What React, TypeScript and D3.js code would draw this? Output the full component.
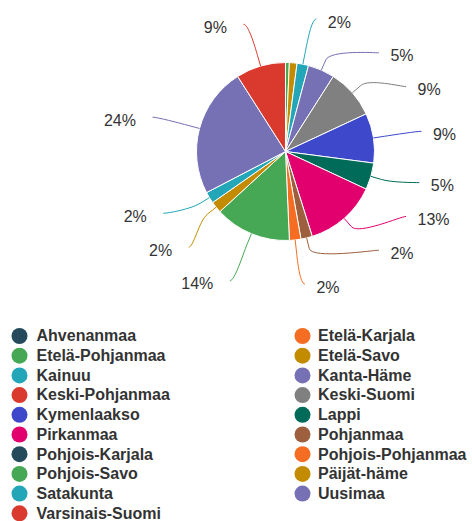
import React from 'react';
import * as d3 from 'd3';

const regions = [
  'Ahvenanmaa', 'Etelä-Karjala', 'Etelä-Pohjanmaa', 'Etelä-Savo', 'Kainuu',
  'Kanta-Häme', 'Keski-Pohjanmaa', 'Keski-Suomi', 'Kymenlaakso', 'Lappi',
  'Pirkanmaa', 'Pohjanmaa', 'Pohjois-Karjala', 'Pohjois-Pohjanmaa', 'Pohjois-Savo',
  'Päijät-häme', 'Satakunta', 'Uusimaa', 'Varsinais-Suomi',
];
const counts = [0, 0, 1, 2, 3, 7, 0, 13, 13, 7, 19, 3, 0, 3, 20, 3, 3, 34, 13];
const palette = [
  '#244a5b', '#f46d22', '#46a854', '#c38b00', '#22a6b8', '#7670b4',
  '#da3a2d', '#808080', '#3e48cb', '#006b58', '#e2006f', '#9d5f3e',
];

const W = 472;
const H = 521;
const cx = 285.5;
const cy = 151.5;
const radius = 89;
const labelDistance = 43.5;
const R = radius + labelDistance;
const connectorOffset = 11;
const boxH = 33.8;
const FONT = '"Liberation Sans", Arial, sans-serif';

type Box = { target: number; size: number; pos: number; key: number };

function distribute(boxes: Box[], len: number) {
  const sorted = boxes.slice().sort((a, b) => a.target - b.target);
  let groups = sorted.map((b) => ({ size: b.size, targets: [b.target], align: 0.5, pos: 0, members: [b] }));
  let overlapping = true;
  let guard = 0;
  while (overlapping && guard++ < 100) {
    for (const g of groups) {
      const t = (Math.min(...g.targets) + Math.max(...g.targets)) / 2;
      g.pos = Math.min(Math.max(0, t - g.size * g.align), len - g.size);
    }
    overlapping = false;
    let i = groups.length;
    while (i--) {
      if (i > 0 && groups[i - 1].pos + groups[i - 1].size > groups[i].pos) {
        const p = groups[i - 1];
        const c = groups[i];
        p.size += c.size;
        p.targets = p.targets.concat(c.targets);
        p.members = p.members.concat(c.members);
        p.align = 0.5;
        if (p.pos + p.size > len) p.pos = len - p.size;
        groups.splice(i, 1);
        overlapping = true;
      }
    }
  }
  for (const g of groups) {
    let off = 0;
    for (const m of g.members) {
      m.pos = g.pos + off;
      off += m.size;
    }
  }
}

export default function App() {
  const data = regions.map((name, i) => ({ name, value: counts[i], color: palette[i % palette.length] }));
  const total = d3.sum(counts);
  const pie = d3.pie<any>().sort(null).value((d: any) => d.value).startAngle(0).endAngle(2 * Math.PI);
  const arcs = pie(data);
  const arcGen = d3.arc<any>().innerRadius(0).outerRadius(radius);

  const top = cy - R;
  const bottom = cy + R;
  const len = bottom + boxH - top;

  const labels = arcs
    .map((a, i) => {
      const pct = (a.data.value / total) * 100;
      const mid = (a.startAngle + a.endAngle) / 2;
      const ux = Math.sin(mid);
      const uy = -Math.cos(mid);
      return {
        i, pct, mid, ux, uy,
        color: a.data.color,
        left: mid > Math.PI,
        natY: cy + uy * R,
        y: 0, x: 0,
      };
    })
    .filter((l) => l.pct >= 1.5);

  [true, false].forEach((side) => {
    const list = labels.filter((l) => l.left === side);
    const boxes: Box[] = list.map((l, k) => ({ target: l.natY - top + boxH / 2, size: boxH, pos: 0, key: k }));
    distribute(boxes, len);
    boxes.forEach((b) => {
      const l = list[b.key];
      l.y = top + b.pos;
      const yForX = l.y < top + 4 || l.y > bottom - 4 ? l.natY : l.y;
      const dy = yForX - cy;
      const dx = Math.sqrt(Math.max(0, R * R - dy * dy));
      l.x = cx + (l.left ? -dx : dx);
    });
  });

  const rowH = 19.7;
  const legendTop = 335.5;

  return (
    <svg width={W} height={H} style={{ position: 'absolute', left: 0, top: 0, background: '#fff' }}>
      <g transform={`translate(${cx},${cy})`}>
        {arcs.map((a, i) =>
          a.data.value > 0 ? (
            <path key={i} d={arcGen(a) || ''} fill={a.data.color} stroke="#ffffff" strokeWidth={1} strokeLinejoin="round" />
          ) : null,
        )}
      </g>
      {labels.map((l) => {
        const dir = l.left ? -1 : 1;
        const ex = cx + l.ux * radius;
        const ey = cy + l.uy * radius;
        const bx = cx + l.ux * (radius + connectorOffset);
        const by = cy + l.uy * (radius + connectorOffset);
        const d = `M ${l.x + dir * 5} ${l.y} C ${l.x} ${l.y} ${2 * bx - ex} ${2 * by - ey} ${bx} ${by} L ${ex} ${ey}`;
        return (
          <g key={l.i}>
            <path d={d} fill="none" stroke={l.color} strokeWidth={1} />
            <text
              x={l.left ? l.x - 21.5 : l.x + 16.5}
              y={l.y + 8.5}
              textAnchor={l.left ? 'end' : 'start'}
              fontFamily={FONT}
              fontSize={16}
              fill="#333333"
            >
              {`${Math.round(l.pct)}%`}
            </text>
          </g>
        );
      })}
      {data.map((d, i) => {
        const col = i % 2;
        const row = Math.floor(i / 2);
        const yy = legendTop + row * rowH;
        return (
          <g key={d.name}>
            <circle cx={col ? 302.5 : 19.5} cy={yy + 0.5} r={8} fill={d.color} />
            <text x={col ? 318 : 36.5} y={yy + 5.8} fontFamily={FONT} fontSize={16} fontWeight="bold" fill="#333333">
              {d.name}
            </text>
          </g>
        );
      })}
    </svg>
  );
}
